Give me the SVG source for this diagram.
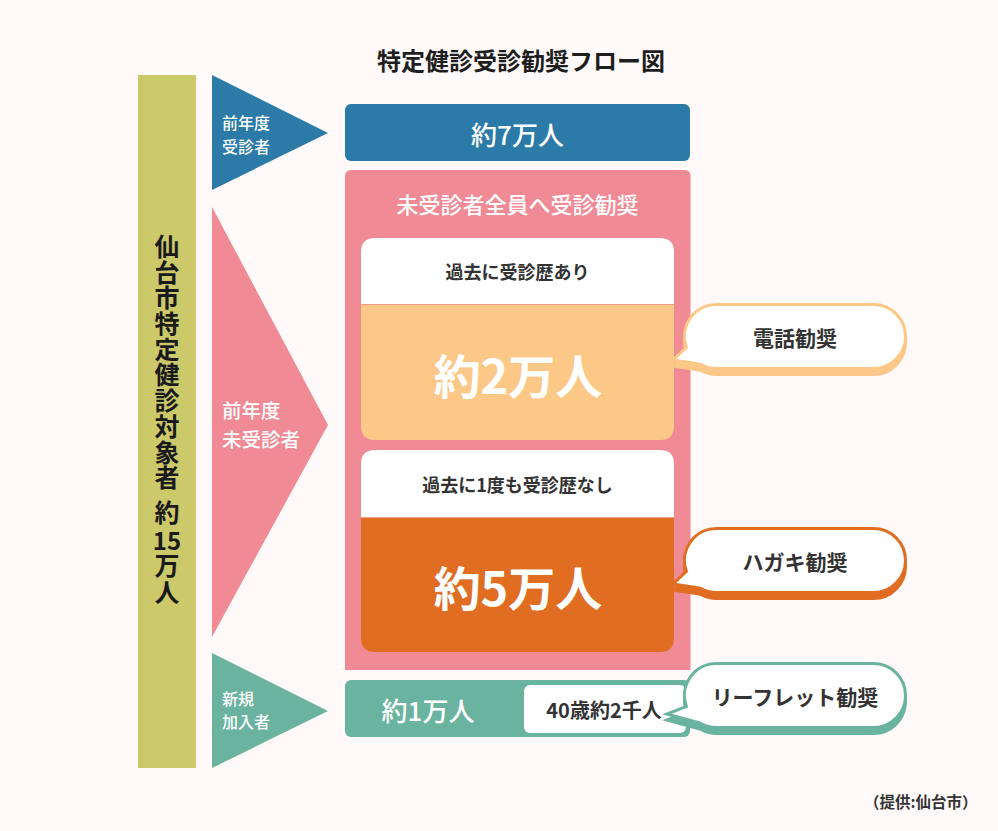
<svg xmlns="http://www.w3.org/2000/svg" xmlns:xlink="http://www.w3.org/1999/xlink" width="998" height="831" viewBox="0 0 998 831">
<style>
text{font-family:"Noto Sans CJK JP","Noto Sans",sans-serif;}
.w{fill:#ffffff;}
.d{fill:#333333;}
.c{text-anchor:middle;dominant-baseline:central;}
.l{dominant-baseline:central;}
.b{font-weight:700;}
.m{font-weight:500;}
.v{writing-mode:vertical-rl;text-anchor:middle;font-weight:700;fill:#1a1a1a;}
</style>
<defs>
<path id="bub" d="M43.5,0 H200.5 A32,32 0 0 1 200.5,64 H43.5 A32,32 0 0 1 27.5,59.71 L0,55.5 L13.43,42.94 A32,32 0 0 1 43.5,0 Z"/>
<path id="bub2" d="M43.5,0 H200.5 A32,32 0 0 1 200.5,64 H43.5 A32,32 0 0 1 27.5,59.71 L-6,50.5 L13.43,42.94 A32,32 0 0 1 43.5,0 Z"/>
</defs>
<rect width="998" height="831" fill="#fffaf9"/>
<text class="c b" x="521" y="59" font-size="24" fill="#1e1e1e">特定健診受診勧奨フロー図</text>

<g id="total">
<rect x="138" y="75" width="58" height="693" fill="#cbc96a"/>
<text class="v" x="167" y="362.5" font-size="25" letter-spacing="0.67">仙台市特定健診対象者</text>
<text class="v" x="167" y="512" font-size="25">約</text>
<text class="c b" x="167" y="539" font-size="24" fill="#1a1a1a">15</text>
<text class="v" x="167" y="580" font-size="25" letter-spacing="2">万人</text>
</g>

<g id="connectors">
<polygon id="arrow-prev" points="212,75 328,133 212,190" fill="#2b7aa7"/>
<polygon id="arrow-unexam" points="212,207 328,425 212,637" fill="#f08b96"/>
<polygon id="arrow-new" points="212,653 328,711 212,768" fill="#6ab39f"/>
</g>

<g id="label-prev">
<text class="l m w" x="222" y="121.5" font-size="16">前年度</text>
<text class="l m w" x="222" y="145.5" font-size="16">受診者</text>
</g>
<g id="label-unexam">
<text class="l m w" x="222" y="409.5" font-size="19.5">前年度</text>
<text class="l m w" x="222" y="438" font-size="19.5">未受診者</text>
</g>
<g id="label-new">
<text class="l m w" x="222" y="697.5" font-size="16">新規</text>
<text class="l m w" x="222" y="721" font-size="16">加入者</text>
</g>

<g id="box-prev">
<rect x="345" y="104" width="345" height="57" rx="6" fill="#2b7aa7"/>
<text class="c m w" x="517.5" y="133" font-size="26">約7万人</text>
</g>

<g id="box-unexam">
<path d="M351,170 H684.5 Q690.5,170 690.5,176 V670 H345 V176 Q345,170 351,170 Z" fill="#f08b96"/>
<text class="c m w" x="517.5" y="203" font-size="22">未受診者全員へ受診勧奨</text>
</g>

<g id="card-past">
<path d="M375,238 H660 Q674,238 674,252 V304 H361 V252 Q361,238 375,238 Z" fill="#ffffff"/>
<path d="M361,304 H674 V426 Q674,440 660,440 H375 Q361,440 361,426 Z" fill="#fcc888"/>
<line x1="361" y1="304.5" x2="674" y2="304.5" stroke="#f2a08a" stroke-width="1"/>
<text class="c b d" x="517.5" y="271" font-size="18">過去に受診歴あり</text>
<text class="c b w" x="518" y="373" font-size="47">約2万人</text>
</g>

<g id="card-never">
<path d="M375,450 H660 Q674,450 674,464 V517 H361 V464 Q361,450 375,450 Z" fill="#ffffff"/>
<path d="M361,517 H674 V638 Q674,652 660,652 H375 Q361,652 361,638 Z" fill="#e06d22"/>
<line x1="361" y1="517.5" x2="674" y2="517.5" stroke="#f2a08a" stroke-width="1"/>
<text class="c b d" x="517.5" y="483.5" font-size="18">過去に1度も受診歴なし</text>
<text class="c b w" x="518" y="585" font-size="47">約5万人</text>
</g>

<g id="box-new">
<rect x="345" y="680" width="345" height="57" rx="6" fill="#6ab39f"/>
<text class="c m w" x="428" y="709" font-size="26">約1万人</text>
<rect x="524" y="685" width="162" height="48" rx="6" fill="#ffffff"/>
<text class="c b d" x="604" y="709" font-size="20">40歳約2千人</text>
</g>

<g id="bubble-phone">
<use xlink:href="#bub" href="#bub" transform="translate(673,310.5)" fill="#fcc888" stroke="#fcc888" stroke-width="3"/>
<use xlink:href="#bub" href="#bub" transform="translate(673,304.5)" fill="#ffffff" stroke="#fcc888" stroke-width="3"/>
<text class="c b d" x="795" y="336.5" font-size="21">電話勧奨</text>
</g>

<g id="bubble-postcard">
<use xlink:href="#bub" href="#bub" transform="translate(673,534.5)" fill="#e06d22" stroke="#e06d22" stroke-width="3"/>
<use xlink:href="#bub" href="#bub" transform="translate(673,528.5)" fill="#ffffff" stroke="#e06d22" stroke-width="3"/>
<text class="c b d" x="795" y="560.5" font-size="21">ハガキ勧奨</text>
</g>

<g id="bubble-leaflet">
<use xlink:href="#bub2" href="#bub2" transform="translate(673,669.5)" fill="#6ab39f" stroke="#6ab39f" stroke-width="3"/>
<use xlink:href="#bub2" href="#bub2" transform="translate(673,663.5)" fill="#ffffff" stroke="#6ab39f" stroke-width="3"/>
<text class="c b d" x="795" y="695.5" font-size="21">リーフレット勧奨</text>
</g>

<text class="l b d" x="864" y="801" font-size="15.5">（提供:仙台市）</text>
</svg>
